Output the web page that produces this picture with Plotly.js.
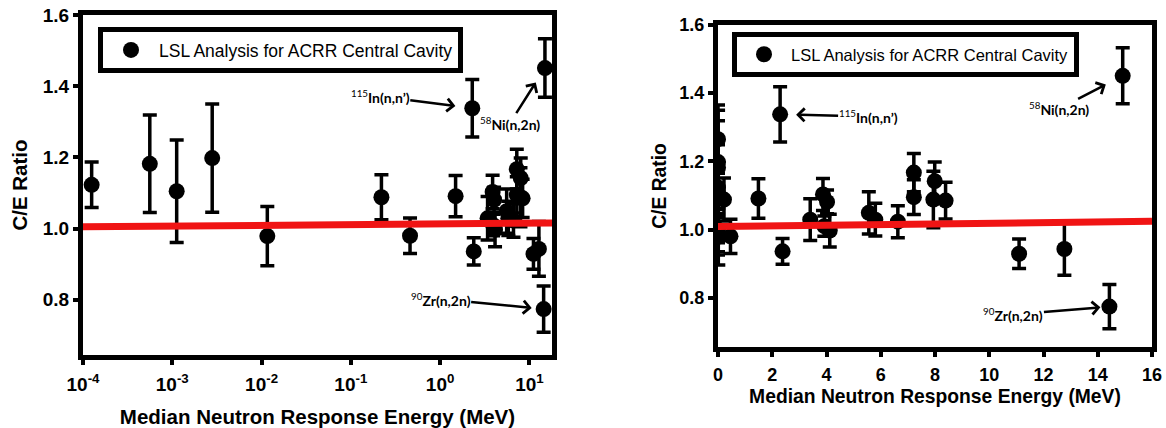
<!DOCTYPE html>
<html>
<head>
<meta charset="utf-8">
<script src="https://cdn.plot.ly/plotly-3.0.1.min.js"></script>
<style>
  html, body { margin: 0; padding: 0; background: #ffffff; }
  #chart { width: 1166px; height: 428px; }
</style>
</head>
<body>
<div id="chart"></div>
<script>
// ---- Data ----
// Median neutron response energy (MeV); the first three are thermal (off the log axis range)
const energy = [2.53e-8, 2.53e-8, 2.53e-8, 1.25e-4, 5.6e-4, 1.12e-3, 2.8e-3, 0.0116,
  0.22, 0.46, 1.49, 2.29, 2.38, 3.40, 3.87, 4.02, 3.92, 4.12, 5.56, 5.80, 6.63,
  7.22, 7.22, 7.99, 7.94, 8.39, 11.10, 12.77, 14.43, 14.92];
// C/E ratio
const ratio = [1.265, 1.000, 0.985, 1.123, 1.182, 1.105, 1.198, 0.979,
  1.088, 0.980, 1.091, 1.338, 0.936, 1.029, 1.103, 1.081, 1.010, 0.997, 1.049, 1.029, 1.023,
  1.167, 1.095, 1.142, 1.088, 1.085, 0.929, 0.943, 0.774, 1.451];
// one-sigma uncertainty on C/E
const ratioErr = [0.100, 0.075, 0.050, 0.064, 0.137, 0.144, 0.152, 0.083,
  0.063, 0.050, 0.058, 0.081, 0.038, 0.061, 0.047, 0.035, 0.030, 0.048, 0.062, 0.048, 0.047,
  0.056, 0.051, 0.056, 0.083, 0.054, 0.043, 0.077, 0.065, 0.082];
const seriesName = 'LSL Analysis for ACRR Central Cavity';

// Trend lines (red)
const fitLogX = [1e-4, 17.9];
const fitLogY = [1.005, 1.016];
const fitLinX = [0, 16];
const fitLinY = [1.009, 1.024];

// Labelled reactions
const labelText = ['<sup>115</sup><b>In(n,n’)</b>', '<sup>58</sup><b>Ni(n,2n)</b>', '<sup>90</sup><b>Zr(n,2n)</b>'];
const labelEnergy = [2.29, 14.92, 14.43];

// Tick labels
const logTickVals = [1e-4, 1e-3, 1e-2, 1e-1, 1, 10];
const logTickText = ['10<sup>-4</sup>', '10<sup>-3</sup>', '10<sup>-2</sup>', '10<sup>-1</sup>', '10<sup>0</sup>', '10<sup>1</sup>'];
const yTickVals = [0.8, 1.0, 1.2, 1.4, 1.6];
const yTickText = ['0.8', '1.0', '1.2', '1.4', '1.6'];
const linTickVals = [0, 2, 4, 6, 8, 10, 12, 14, 16];

const xTitle = 'Median Neutron Response Energy (MeV)';
const yTitle = 'C/E Ratio';

// ---- Build figure ----
const W = 1166, H = 428;
const FONT = 'Liberation Sans, Arial, sans-serif';

function pointIndex(e) { return energy.indexOf(e); }

const errStyle = { type: 'data', array: ratioErr, visible: true, color: '#000', thickness: 3.5, width: 7 };
const markerStyle = { color: '#000', size: 16, symbol: 'circle' };

const traces = [
  { type: 'scatter', mode: 'markers', x: energy, y: ratio, error_y: errStyle, marker: markerStyle,
    name: seriesName, xaxis: 'x', yaxis: 'y', legend: 'legend', showlegend: true, cliponaxis: true },
  { type: 'scatter', mode: 'lines', x: fitLogX, y: fitLogY, line: { color: '#f01414', width: 7 },
    xaxis: 'x', yaxis: 'y', showlegend: false, hoverinfo: 'skip' },
  { type: 'scatter', mode: 'markers', x: energy, y: ratio, error_y: errStyle, marker: markerStyle,
    name: seriesName, xaxis: 'x2', yaxis: 'y2', legend: 'legend2', showlegend: true, cliponaxis: true },
  { type: 'scatter', mode: 'lines', x: fitLinX, y: fitLinY, line: { color: '#f01414', width: 7 },
    xaxis: 'x2', yaxis: 'y2', showlegend: false, hoverinfo: 'skip' }
];

function px2fx(p) { return p / W; }
function px2fy(p) { return 1 - p / H; }

const axisCommon = {
  showline: true, linecolor: '#000', linewidth: 5, mirror: true,
  ticks: 'outside', ticklen: 5, tickwidth: 4, tickcolor: '#000',
  showgrid: false, zeroline: false, automargin: false
};
const tickFontL = { family: FONT, size: 19, color: '#000', weight: 'bold' };
const tickFontR = { family: FONT, size: 18, color: '#000', weight: 'bold' };
const titleFontL = { family: FONT, size: 20.5, color: '#000', weight: 'bold' };
const titleFontR = { family: FONT, size: 19.3, color: '#000', weight: 'bold' };

// text centre offsets (px) from the labelled point, and arrow standoff: [In, Ni, Zr]
const annLeft = [
  { ax: -92, ay: -12, standoff: 17 },
  { ax: -35, ay: 55, standoff: 17 },
  { ax: -103, ay: -10, standoff: 12 }
];
const annRight = [
  { ax: 88, ay: 2, standoff: 16 },
  { ax: -64, ay: 33, standoff: 19 },
  { ax: -96, ay: 8, standoff: 9 }
];

const annotations = [];
const annFont = { family: 'Lato, Liberation Sans, sans-serif', size: 14, color: '#000' };
labelText.forEach(function (txt, i) {
  const idx = pointIndex(labelEnergy[i]);
  const px = energy[idx], py = ratio[idx];
  const a = annLeft[i];
  // left (log) panel: annotation x is in log10 units
  annotations.push({ xref: 'x', yref: 'y', x: Math.log10(px), y: py, text: txt, showarrow: true,
    ax: a.ax, ay: a.ay, standoff: a.standoff, arrowhead: 4, arrowsize: 1, arrowwidth: 2.5,
    arrowcolor: '#000', font: annFont, borderpad: 0 });
  const b = annRight[i];
  annotations.push({ xref: 'x2', yref: 'y2', x: px, y: py, text: txt, showarrow: true,
    ax: b.ax, ay: b.ay, standoff: b.standoff, arrowhead: 4, arrowsize: 1, arrowwidth: 2.5,
    arrowcolor: '#000', font: annFont, borderpad: 0 });
});

const layout = {
  width: W, height: H,
  margin: { l: 0, r: 0, t: 0, b: 0, pad: 0 },
  paper_bgcolor: '#fff', plot_bgcolor: '#fff',
  font: { family: FONT, color: '#000' },
  xaxis: Object.assign({}, axisCommon, {
    type: 'log', domain: [px2fx(83), px2fx(552)], range: [-4, Math.log10(17.9)],
    tickmode: 'array', tickvals: logTickVals, ticktext: logTickText, anchor: 'y', ticklabelstandoff: 3,
    tickfont: tickFontL,
    title: { text: xTitle, font: titleFontL, standoff: 17 }
  }),
  yaxis: Object.assign({}, axisCommon, {
    domain: [px2fy(355), px2fy(15)], range: [0.645, 1.6],
    tickmode: 'array', tickvals: yTickVals, ticktext: yTickText, anchor: 'x',
    tickfont: tickFontL,
    title: { text: yTitle, font: titleFontL, standoff: 11 }
  }),
  xaxis2: Object.assign({}, axisCommon, {
    domain: [px2fx(718), px2fx(1152)], range: [0, 16],
    tickmode: 'array', tickvals: linTickVals, anchor: 'y2', ticklabelstandoff: 2,
    tickfont: tickFontR,
    title: { text: xTitle, font: titleFontR, standoff: 7 }
  }),
  yaxis2: Object.assign({}, axisCommon, {
    domain: [px2fy(347), px2fy(25)], range: [0.6555, 1.6],
    tickmode: 'array', tickvals: yTickVals, ticktext: yTickText, anchor: 'x2',
    tickfont: tickFontR,
    title: { text: yTitle, font: titleFontR, standoff: 9 }
  }),
  legend: {
    x: px2fx(98), y: px2fy(27), xanchor: 'left', yanchor: 'top',
    bgcolor: '#fff', bordercolor: '#000', borderwidth: 5,
    font: { family: FONT, size: 17.5, color: '#000' }, itemwidth: 46
  },
  legend2: {
    x: px2fx(732), y: px2fy(32), xanchor: 'left', yanchor: 'top',
    bgcolor: '#fff', bordercolor: '#000', borderwidth: 5,
    font: { family: FONT, size: 16.5, color: '#000' }, itemwidth: 44
  },
  annotations: annotations,
  showlegend: true
};

Plotly.newPlot('chart', traces, layout, { displayModeBar: false, staticPlot: true });
</script>
</body>
</html>
